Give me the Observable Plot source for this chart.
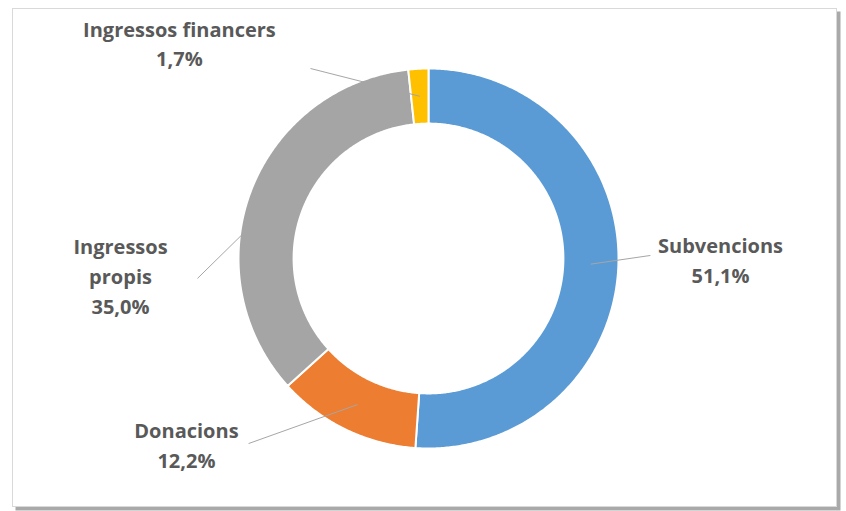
<!DOCTYPE html>
<html>
<head>
<meta charset="utf-8">
<script src="https://cdn.jsdelivr.net/npm/d3@7"></script>
<script src="https://cdn.jsdelivr.net/npm/@observablehq/plot@0.6"></script>
<style>
  html, body { margin: 0; padding: 0; background: #ffffff; }
  #chart { width: 846px; height: 511px; }
</style>
</head>
<body>
<div id="chart"></div>
<script>
// ---- data ----
const categories = ["Subvencions", "Donacions", "Ingressos propis", "Ingressos financers"];
const shares = [51.1, 12.2, 35.0, 1.7];
const labelNames = ["Subvencions", "Donacions", "Ingressos\npropis", "Ingressos financers"];

// ---- style / layout ----
const colors = ["#5B9BD5", "#ED7D31", "#A5A5A5", "#FFC000"];
const W = 846, H = 511;
const R = 190;                 // outer radius in px
const cx = 428, cy = 258;      // ring centre in px
const innerRatio = 0.71;
// label block centres and leader-line starts, in outer-radius units relative to the centre
const labelPos = [[1.537, 0.0], [-1.274, -0.975], [-1.621, -0.085], [-1.311, 1.14]];
const leaderStart = [[1.168, 0.016], [-0.947, -0.974], [-1.216, -0.105], [-0.621, 1.0]];

const fmt = v => v.toFixed(1).replace(".", ",") + "%";

// ring geometry from the data
const total = d3.sum(shares);
let acc = 0;
const slices = categories.map((name, i) => {
  const a0 = acc / total * 2 * Math.PI;
  acc += shares[i];
  const a1 = acc / total * 2 * Math.PI;
  return {name, a0, a1, mid: (a0 + a1) / 2, i};
});
const ringPts = [];
for (const s of slices) {
  const n = Math.max(2, Math.ceil((s.a1 - s.a0) / (Math.PI / 360)));
  for (let k = 0; k <= n; k++) {
    const a = s.a0 + (s.a1 - s.a0) * k / n;
    ringPts.push({name: s.name, x: Math.sin(a), y: Math.cos(a)});
  }
  for (let k = n; k >= 0; k--) {
    const a = s.a0 + (s.a1 - s.a0) * k / n;
    ringPts.push({name: s.name, x: innerRatio * Math.sin(a), y: innerRatio * Math.cos(a)});
  }
}
const rMid = (1 + innerRatio) / 2;
const leaders = slices.map((s, i) => ({
  x1: leaderStart[i][0], y1: leaderStart[i][1],
  x2: rMid * Math.sin(s.mid), y2: rMid * Math.cos(s.mid)
}));
const labels = slices.map((s, i) => ({
  x: labelPos[i][0], y: labelPos[i][1],
  text: labelNames[i] + "\n" + fmt(shares[i])
}));

const chart = Plot.plot({
  width: W,
  height: H,
  margin: 0,
  x: {domain: [-cx / R, (W - cx) / R], axis: null},
  y: {domain: [-(H - cy) / R, cy / R], axis: null},
  color: {domain: categories, range: colors},
  style: {background: "#ffffff", fontFamily: "'Open Sans', sans-serif"},
  marks: [
    Plot.frame({fill: "#a9a9a9", stroke: "none", insetLeft: 15, insetTop: 11, insetRight: 6, insetBottom: 1}),
    Plot.frame({fill: "#ffffff", stroke: "#d9d9d9", insetLeft: 12, insetTop: 8, insetRight: 10, insetBottom: 5}),
    Plot.line(ringPts, {x: "x", y: "y", z: "name", fill: "name", stroke: "#ffffff", strokeWidth: 2, curve: "linear-closed"}),
    Plot.link(leaders, {x1: "x1", y1: "y1", x2: "x2", y2: "y2", stroke: "#a6a6a6", strokeWidth: 1}),
    Plot.text(labels, {x: "x", y: "y", text: "text", fontSize: 20, fontWeight: "bold", fill: "#595959", lineHeight: 1.5})
  ]
});
document.getElementById("chart").appendChild(chart);
</script>
</body>
</html>
